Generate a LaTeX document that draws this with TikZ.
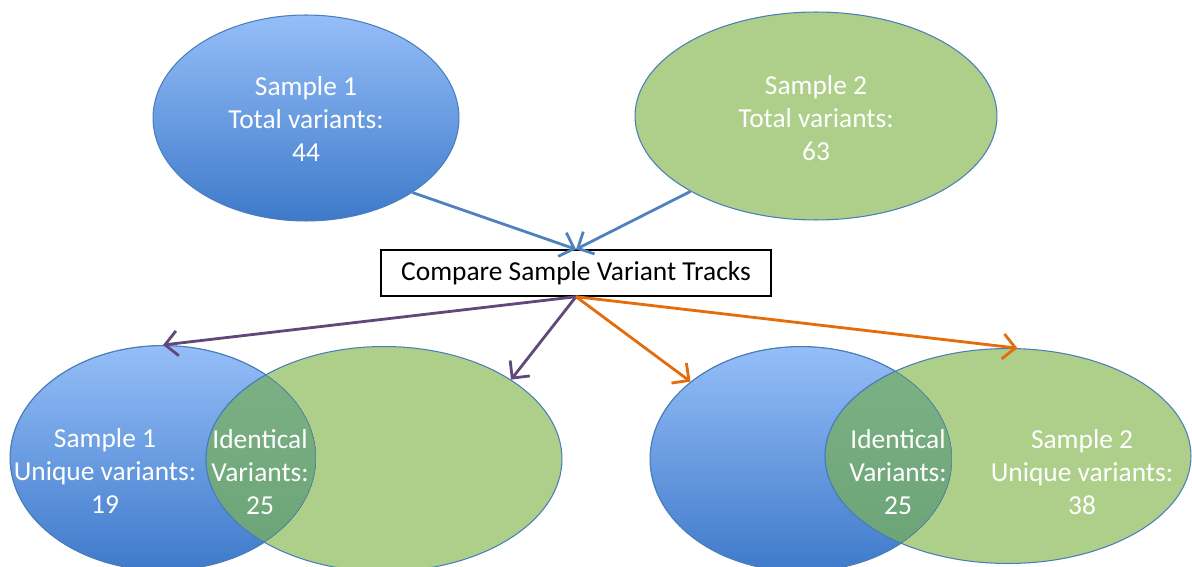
\documentclass[tikz,border=0pt]{standalone}
\usepackage{fontspec}
\setmainfont{Carlito}
\usepackage{xcolor}
\usetikzlibrary{arrows.meta,positioning,shapes.geometric}
\definecolor{blueTop}{RGB}{149,190,248}
\definecolor{blueBot}{RGB}{62,122,202}
\definecolor{greenFill}{RGB}{173,207,138}
\definecolor{interTop}{RGB}{126,178,134}
\definecolor{interBot}{RGB}{106,163,118}
\definecolor{edgeBlue}{RGB}{74,126,187}
\definecolor{arrBlue}{RGB}{79,129,189}
\definecolor{arrPurple}{RGB}{96,73,122}
\definecolor{arrOrange}{RGB}{228,108,10}

\begin{document}
\begin{tikzpicture}[
    x=0.02cm, y=-0.02cm,
    txt/.style={font=\fontsize{15.6pt}{18.8pt}\selectfont, align=center, text=white},
    blueell/.style={ellipse, draw=edgeBlue, line width=0.6pt, top color=blueTop, bottom color=blueBot, inner sep=0pt},
    greenell/.style={ellipse, draw=edgeBlue, line width=0.6pt, fill=greenFill, inner sep=0pt},
    cmpbox/.style={draw, line width=0.8pt, fill=white, minimum width=7.8cm, minimum height=0.92cm, font=\fontsize{15.6pt}{18.8pt}\selectfont},
    arr/.style={-{Straight Barb[length=2.5mm, width=5mm, line width=1.6pt]}, line width=1.6pt},
]
    \useasboundingbox (0,0) rectangle (1192,567);

    % top: the two samples
    \node[blueell, minimum width=6.12cm, minimum height=4.12cm] (s1tot) at (306,118) {};
    \node[greenell, minimum width=7.24cm, minimum height=4.16cm] (s2tot) at (816,116) {};
    \node[txt] (s1txt) at (306,119) {Sample 1\\Total variants:\\44};
    \node[txt] (s2txt) at (816,118) {Sample 2\\Total variants:\\63};

    \node[cmpbox] (cmp) at (576,273) {Compare Sample Variant Tracks};

    % bottom left venn
    \node[blueell, minimum width=6.12cm, minimum height=4.5cm] (v1a) at (163,458) {};
    \node[greenell, minimum width=7.12cm, minimum height=4.5cm] (v1b) at (384,459) {};
    \begin{scope}
        \clip (163,458) ellipse [x radius=3.06cm, y radius=2.25cm];
        \fill[top color=interTop, bottom color=interBot] (384,459) ellipse [x radius=3.56cm, y radius=2.25cm];
        \draw[edgeBlue, line width=0.6pt] (384,459) ellipse [x radius=3.56cm, y radius=2.25cm];
        \draw[edgeBlue, line width=0.6pt] (163,458) ellipse [x radius=3.06cm, y radius=2.25cm];
    \end{scope}

    % bottom right venn
    \node[blueell, minimum width=6.04cm, minimum height=4.5cm] (v2a) at (801,459) {};
    \node[greenell, minimum width=7.32cm, minimum height=4.3cm] (v2b) at (1008,456) {};
    \begin{scope}
        \clip (801,459) ellipse [x radius=3.02cm, y radius=2.25cm];
        \fill[top color=interTop, bottom color=interBot] (1008,456) ellipse [x radius=3.66cm, y radius=2.15cm];
        \draw[edgeBlue, line width=0.6pt] (1008,456) ellipse [x radius=3.66cm, y radius=2.15cm];
        \draw[edgeBlue, line width=0.6pt] (801,459) ellipse [x radius=3.02cm, y radius=2.25cm];
    \end{scope}

    \node[txt] (u1) at (105,471) {Sample 1\\Unique variants:\\19};
    \node[txt] (i1) at (260,472) {Identical\\Variants:\\25};
    \node[txt] (i2) at (898,472) {Identical\\Variants:\\25};
    \node[txt] (u2) at (1082,472) {Sample 2\\Unique variants:\\38};

    \draw[arr, arrBlue] (s1tot.-35) -- (cmp.north);
    \draw[arr, arrBlue] (s2tot.211) -- (cmp.north);
    \draw[arr, arrPurple] (cmp.south) -- (v1a.north);
    \draw[arr, arrPurple] (cmp.south) -- (v1b.32);
    \draw[arr, arrOrange] (cmp.south) -- (v2a.145);
    \draw[arr, arrOrange] (cmp.south) -- (v2b.85);
\end{tikzpicture}
\end{document}
